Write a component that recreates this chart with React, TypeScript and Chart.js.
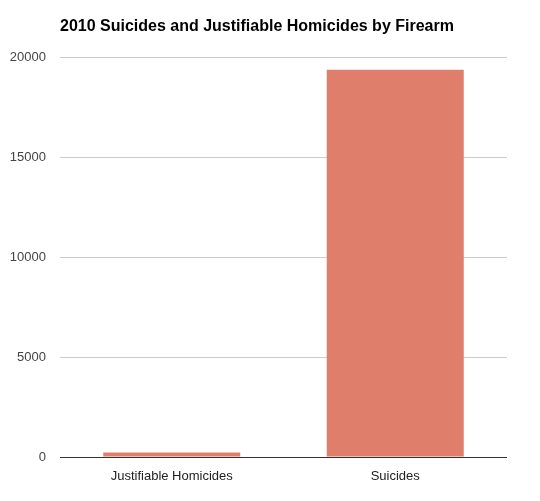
import React, { useEffect, useRef } from "react";
import { Chart, registerables } from "chart.js";

Chart.register(...registerables);

const TITLE = "2010 Suicides and Justifiable Homicides by Firearm";
const categories = ["Justifiable Homicides", "Suicides"];
const values = [230, 19392];
const yTicks = [0, 5000, 10000, 15000, 20000];

const titlePlugin = {
  id: "leftTitle",
  afterDraw(chart: any) {
    const ctx = chart.ctx;
    ctx.save();
    ctx.font = "bold 16px 'Liberation Sans', Arial, sans-serif";
    ctx.fillStyle = "#000";
    ctx.textBaseline = "middle";
    ctx.textAlign = "left";
    ctx.fillText(TITLE, chart.chartArea.left, 27);
    ctx.restore();
  },
};

export default function App() {
  const ref = useRef<HTMLCanvasElement>(null);
  useEffect(() => {
    const chart = new Chart(ref.current!, {
      type: "bar",
      data: {
        labels: categories,
        datasets: [
          {
            data: values,
            backgroundColor: "#e07e6c",
            borderWidth: 0,
            barPercentage: 0.613,
            categoryPercentage: 1,
          },
        ],
      },
      options: {
        animation: false,
        responsive: false,
        maintainAspectRatio: false,
        layout: { padding: { top: 57.5, right: 33, left: 0, bottom: 0 } },
        plugins: { legend: { display: false }, tooltip: { enabled: false }, title: { display: false } },
        scales: {
          x: {
            grid: { display: false },
            border: { display: false },
            ticks: {
              color: "#222",
              padding: 4,
              font: { family: "'Liberation Sans', Arial, sans-serif", size: 13 },
            },
            afterFit(scale: any) {
              scale.height = 44;
            },
          },
          y: {
            min: 0,
            max: 20000,
            afterBuildTicks(scale: any) {
              scale.ticks = yTicks.map((v) => ({ value: v }));
            },
            border: { display: false },
            grid: {
              drawTicks: false,
              color: (c: any) => (c.tick && c.tick.value === 0 ? "#333" : "#ccc"),
              lineWidth: 1,
            },
            ticks: {
              color: "#444",
              padding: 14,
              callback: (v: any) => String(v),
              font: { family: "'Liberation Sans', Arial, sans-serif", size: 13 },
            },
            afterFit(scale: any) {
              scale.width = 60;
            },
          },
        },
      },
      plugins: [titlePlugin],
    });
    return () => chart.destroy();
  }, []);
  return (
    <div style={{ position: "fixed", left: 0, top: 0, width: 540, height: 501, background: "#fff" }}>
      <canvas ref={ref} width={540} height={501} style={{ width: 540, height: 501 }} />
    </div>
  );
}
